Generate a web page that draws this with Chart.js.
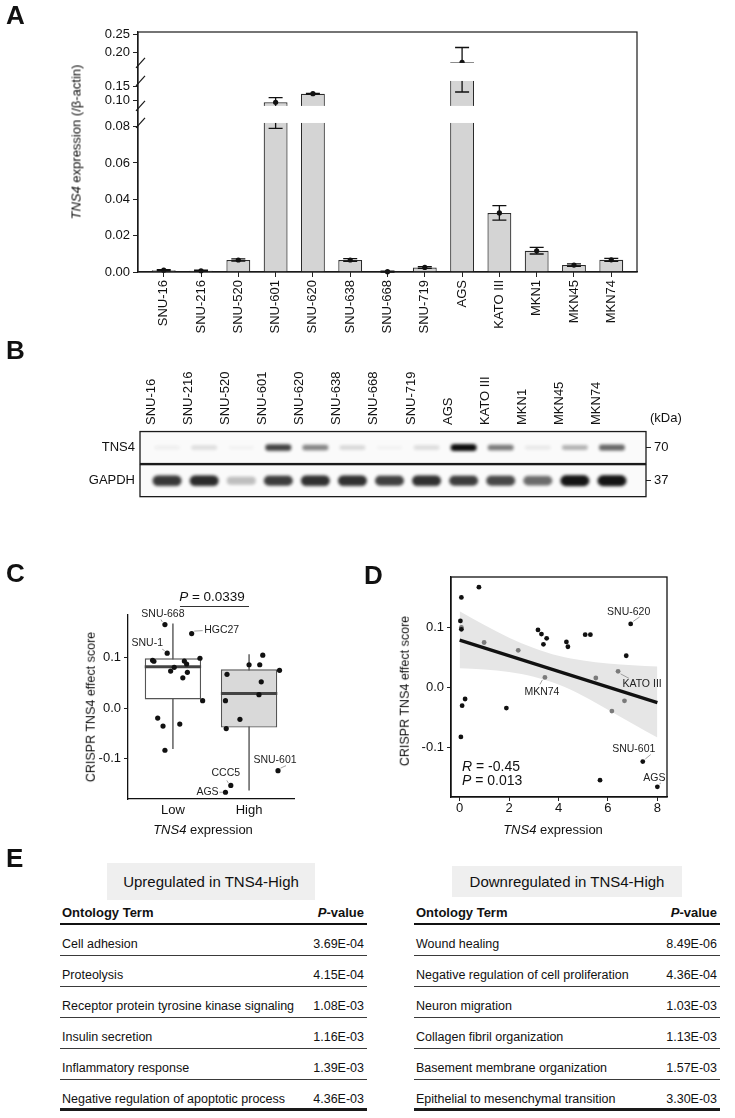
<!DOCTYPE html>
<html>
<head>
<meta charset="utf-8">
<script src="https://cdn.jsdelivr.net/npm/chart.js@4.4.1/dist/chart.umd.min.js"></script>
<style>
  body { margin: 0; background: #fff; font-family: "Liberation Sans", Arial, sans-serif; color: #111; }
  #page { position: relative; width: 735px; height: 1118px; overflow: hidden; }
  canvas { position: absolute; }
  .t { position: absolute; white-space: nowrap; line-height: 1; }
  .panel { font-weight: bold; font-size: 26px; }
  .rot { transform: translate(-50%, -50%) rotate(-90deg); }
  .ctr { transform: translate(-50%, -50%); }
  .tbox { position: absolute; background: #efefef; font-size: 15px; display: flex; align-items: center; justify-content: center; }
  .tbl { position: absolute; top: 900px; font-size: 12.5px; }
  .tbl .hd, .tbl .r { display: flex; justify-content: space-between; box-sizing: border-box; line-height: 14px; }
  .tbl .hd { height: 25px; padding: 6px 3px 0 2px; border-bottom: 2.5px solid #111; font-weight: bold; font-size: 13px; }
  .tbl .r { height: 31px; padding: 12px 3px 0 2px; border-bottom: 1.6px solid #3a3a3a; }
  .tbl .r:last-child { border-bottom: 3px solid #1a1a1a; }
</style>
</head>
<body>
<div id="page">
  <canvas id="chartA" width="735" height="345" style="left:0;top:0"></canvas>
  <canvas id="chartB" width="735" height="150" style="left:0;top:360px"></canvas>
  <canvas id="chartC" width="365" height="270" style="left:0;top:580px"></canvas>
  <canvas id="chartD" width="370" height="290" style="left:365px;top:560px"></canvas>

  <div class="t panel" style="left:6px;top:2px">A</div>
  <div class="t panel" style="left:6px;top:337px">B</div>
  <div class="t panel" style="left:6px;top:560px">C</div>
  <div class="t panel" style="left:364px;top:562px">D</div>
  <div class="t panel" style="left:6px;top:845px">E</div>

  <div class="t rot" style="left:76px;top:142px;font-size:13px"><i>TNS4</i> expression (/β-actin)</div>
  <div class="t" style="left:650px;top:411px;font-size:13px">(kDa)</div>

  <div class="t rot" style="left:91px;top:707px;font-size:12.5px">CRISPR TNS4 effect score</div>
  <div class="t ctr" style="left:203px;top:829px;font-size:13px"><i>TNS4</i> expression</div>
  <div class="t ctr" style="left:212px;top:597px;font-size:13.5px"><i>P</i> = 0.0339</div>
  <div style="position:absolute;left:180px;top:606px;width:69px;border-top:1px solid #333"></div>

  <div class="t rot" style="left:405px;top:691px;font-size:12.5px">CRISPR TNS4 effect score</div>
  <div class="t ctr" style="left:553px;top:829px;font-size:13px"><i>TNS4</i> expression</div>
  <div class="t" style="left:462px;top:759px;font-size:14px"><i>R</i> = -0.45</div>
  <div class="t" style="left:462px;top:773px;font-size:14px"><i>P</i> = 0.013</div>

  <div class="tbox" style="left:107px;top:863px;width:208px;height:37px">Upregulated in TNS4-High</div>
  <div class="tbox" style="left:452px;top:866px;width:230px;height:31px">Downregulated in TNS4-High</div>
  <div class="tbl" id="tblUp" style="left:60px;width:307px"></div>
  <div class="tbl" id="tblDown" style="left:414px;width:306px"></div>
</div>

<script>
const FONT = '"Liberation Sans", Arial, sans-serif';
Chart.defaults.font.family = FONT;
Chart.defaults.color = '#111';

// ---- panel A: qPCR ----
const cellLines = ['SNU-16', 'SNU-216', 'SNU-520', 'SNU-601', 'SNU-620', 'SNU-638', 'SNU-668',
  'SNU-719', 'AGS', 'KATO III', 'MKN1', 'MKN45', 'MKN74'];
const tns4Mean = [0.0010, 0.0007, 0.0066, 0.095, 0.125, 0.0066, 0.0002, 0.0025, 0.172, 0.0325, 0.0117, 0.0038, 0.0067];
const tns4Err = [0.0003, 0.0003, 0.0006, 0.016, 0.0012, 0.0008, 0.0002, 0.0005, 0.041, 0.004, 0.0018, 0.0007, 0.0008];
const yTicksA = [0, 0.02, 0.04, 0.06, 0.08, 0.10, 0.15, 0.20, 0.25];
// broken axis: value range of each segment and its share of the plot height
const segVals = [[0, 0.082], [0.082, 0.170], [0.170, 0.256]];
const segFrac = [[0, 0.621], [0.692, 0.796], [0.871, 1]];

// ---- panel B: western blot band strength (0-1) ----
const blotRows = ['TNS4', 'GAPDH'];
const kDa = ['70', '37'];
const tns4Band = [0.05, 0.12, 0.03, 0.78, 0.5, 0.15, 0.03, 0.13, 1.0, 0.55, 0.08, 0.3, 0.62];
const gapdhBand = [0.82, 0.88, 0.25, 0.8, 0.85, 0.85, 0.78, 0.85, 0.8, 0.75, 0.6, 0.97, 0.97];

// ---- panel C: boxplot ----
const groups = ['Low', 'High'];
const boxQ1 = [0.017, -0.039];
const boxMed = [0.082, 0.029];
const boxQ3 = [0.099, 0.077];
const whiskLo = [-0.0815, -0.164];
const whiskHi = [0.168, 0.107];
const cJitter = [0.895, 0.925, 1.246, 0.733, 0.75, 1.355, 1.017, 0.97, 1.15, 1.18, 1.19, 1.13, 1.39, 0.80, 0.87, 1.09, 0.895,
  1.71, 2.0, 2.14, 2.18, 2.40, 2.16, 2.13, 1.69, 1.88, 1.70, 2.38, 1.76, 1.69];
const cScore = [0.166, 0.109, 0.148, 0.095, 0.093, 0.099, 0.081, 0.0735, 0.0934, 0.0875, 0.071, 0.060, 0.0145, -0.020, -0.036, -0.032, -0.084,
  0.067, 0.086, 0.086, 0.105, 0.075, 0.052, 0.0265, 0.0145, -0.0225, -0.041, -0.1246, -0.154, -0.1676];
const cNotes = [
  { i: 0, text: 'SNU-668', dx: -2, dy: -10, lx: -4, ly: -5 },
  { i: 1, text: 'SNU-1', dx: -20, dy: -10, lx: -5, ly: -4 },
  { i: 2, text: 'HGC27', dx: 30, dy: -3, lx: 11, ly: -3 },
  { i: 27, text: 'SNU-601', dx: -3, dy: -11, lx: 8, ly: -5 },
  { i: 28, text: 'CCC5', dx: -5, dy: -12, lx: -4, ly: -5 },
  { i: 29, text: 'AGS', dx: -18, dy: 0, lx: -6, ly: 0 }
];

// ---- panel D: correlation ----
const dExpr = [0.07, 0.78, 0.03, 0.07, 0.07, 0.22, 0.10, 0.05, 1.89, 3.17, 3.31, 3.39, 3.52, 4.32, 4.38, 5.08, 5.29, 6.74, 6.92,
  5.68, 7.41, 8.00, 0.99, 2.37, 3.45, 5.51, 6.41, 6.67, 6.16];
const dScore = [0.150, 0.167, 0.111, 0.100, 0.097, -0.019, -0.030, -0.082, -0.034, 0.096, 0.089, 0.072, 0.082, 0.076, 0.068, 0.088, 0.088, 0.053, 0.106,
  -0.154, -0.123, -0.165, 0.075, 0.062, 0.017, 0.016, 0.027, -0.022, -0.039];
const dGray = [0, 0, 0, 1, 0, 0, 0, 0, 0, 0, 0, 0, 0, 0, 0, 0, 0, 0, 0, 0, 0, 0, 1, 1, 1, 1, 1, 1, 1];
const fitX = [0, 8];
const fitY = [0.079, -0.025];
const bandX = [0, 1, 2, 3, 4, 5, 6, 7, 8];
const bandUpper = [0.127, 0.104, 0.083, 0.066, 0.053, 0.045, 0.040, 0.037, 0.035];
const bandLower = [0.032, 0.030, 0.026, 0.018, 0.005, -0.014, -0.037, -0.060, -0.083];
const dNotes = [
  { i: 18, text: 'SNU-620', dx: -2, dy: -12, lx: 9, ly: -7 },
  { i: 26, text: 'KATO III', dx: 24, dy: 13, lx: 11, ly: 7 },
  { i: 24, text: 'MKN74', dx: -3, dy: 15, lx: -5, ly: 7 },
  { i: 20, text: 'SNU-601', dx: -9, dy: -12, lx: 8, ly: -7 },
  { i: 21, text: 'AGS', dx: -3, dy: -9, lx: 3, ly: -4 }
];

// ---- panel E: GO tables ----
const upTerms = ['Cell adhesion', 'Proteolysis', 'Receptor protein tyrosine kinase signaling', 'Insulin secretion',
  'Inflammatory response', 'Negative regulation of apoptotic process'];
const upP = ['3.69E-04', '4.15E-04', '1.08E-03', '1.16E-03', '1.39E-03', '4.36E-03'];
const downTerms = ['Wound healing', 'Negative regulation of cell proliferation', 'Neuron migration', 'Collagen fibril organization',
  'Basement membrane organization', 'Epithelial to mesenchymal transition'];
const downP = ['8.49E-06', '4.36E-04', '1.03E-03', '1.13E-03', '1.57E-03', '3.30E-03'];

// y scale with gaps
class BrokenLinear extends Chart.LinearScale {
  getPixelForValue(v) {
    const h = this.bottom - this.top;
    let k = segVals.findIndex(s => v <= s[1]);
    if (k < 0) k = segVals.length - 1;
    const [v0, v1] = segVals[k], [f0, f1] = segFrac[k];
    return this.bottom - (f0 + (v - v0) / (v1 - v0) * (f1 - f0)) * h;
  }
  getValueForPixel(p) {
    const f = (this.bottom - p) / (this.bottom - this.top);
    let k = segFrac.findIndex(s => f <= s[1]);
    if (k < 0) k = segFrac.length - 1;
    const [v0, v1] = segVals[k], [f0, f1] = segFrac[k];
    return v0 + (f - f0) / (f1 - f0) * (v1 - v0);
  }
}
BrokenLinear.id = 'brokenLinear';
Chart.register(BrokenLinear);

const base = {
  responsive: false,
  animation: false,
  devicePixelRatio: 1,
  plugins: { legend: { display: false }, tooltip: { enabled: false } }
};

const errorBarsA = {
  id: 'errorBarsA',
  afterDatasetsDraw(chart) {
    const { ctx, chartArea: a, scales: { x, y } } = chart;
    ctx.save();
    ctx.strokeStyle = '#111';
    ctx.fillStyle = '#111';
    ctx.lineWidth = 1.3;
    tns4Mean.forEach((m, i) => {
      const px = x.getPixelForValue(i);
      const hi = y.getPixelForValue(m + tns4Err[i]);
      const lo = y.getPixelForValue(Math.max(0, m - tns4Err[i]));
      ctx.beginPath();
      ctx.moveTo(px, hi); ctx.lineTo(px, lo);
      ctx.moveTo(px - 7, hi); ctx.lineTo(px + 7, hi);
      ctx.moveTo(px - 7, lo); ctx.lineTo(px + 7, lo);
      ctx.stroke();
      ctx.beginPath();
      ctx.arc(px, y.getPixelForValue(m), 2.6, 0, Math.PI * 2);
      ctx.fill();
    });
    // white gaps of the broken axis
    const h = a.bottom - a.top;
    ctx.fillStyle = '#fff';
    const edges = [];
    for (let k = 0; k < segFrac.length - 1; k++) {
      const yb = a.bottom - segFrac[k][1] * h;
      const yt = a.bottom - segFrac[k + 1][0] * h;
      ctx.fillRect(a.left + 1, yt, a.right - a.left - 2, yb - yt);
      edges.push(yb, yt);
    }
    ctx.strokeStyle = '#1a1a1a';
    ctx.lineWidth = 1.2;
    ctx.strokeRect(a.left, a.top, a.right - a.left, a.bottom - a.top);
    edges.forEach(e => {
      ctx.beginPath();
      ctx.moveTo(a.left - 2, e + 5);
      ctx.lineTo(a.left + 7, e - 5);
      ctx.stroke();
    });
    ctx.restore();
  }
};

new Chart(document.getElementById('chartA'), {
  type: 'bar',
  data: {
    datasets: [{
      data: cellLines.map((c, i) => ({ x: i, y: tns4Mean[i] })),
      backgroundColor: '#d4d4d4',
      borderColor: '#2b2b2b',
      borderWidth: 1.2,
      barPercentage: 0.64,
      categoryPercentage: 1
    }]
  },
  options: {
    ...base,
    layout: { padding: { top: 32, right: 98, left: 0, bottom: 0 } },
    scales: {
      x: {
        type: 'linear', min: -0.69, max: 12.69, offset: false,
        afterBuildTicks: s => { s.ticks = cellLines.map((c, i) => ({ value: i })); },
        afterFit: s => { s.height = 73; },
        grid: { offset: false, drawOnChartArea: false, tickLength: 5, color: '#222' },
        border: { color: '#1a1a1a', width: 1.2 },
        ticks: { autoSkip: false, minRotation: 90, maxRotation: 90, padding: 3, font: { size: 13 }, callback: v => cellLines[v] }
      },
      y: {
        type: 'brokenLinear', min: 0, max: 0.256,
        afterBuildTicks: s => { s.ticks = yTicksA.map(v => ({ value: v })); },
        afterFit: s => { s.width = 138; },
        grid: { drawOnChartArea: false, tickLength: 5, color: '#222' },
        border: { color: '#1a1a1a', width: 1.2 },
        ticks: { autoSkip: false, padding: 3, font: { size: 13 }, callback: v => v.toFixed(2) }
      }
    }
  },
  plugins: [errorBarsA]
});

// ---- B ----
const bandCache = {};
function bandImage(level, w, h) {
  level = level || 0;
  const key = level + '_' + w + '_' + h;
  if (bandCache[key]) return bandCache[key];
  const pad = 7;
  const c = document.createElement('canvas');
  c.width = w + pad * 2;
  c.height = Math.round(h + pad * 2);
  const g = c.getContext('2d');
  g.filter = 'blur(1.8px)';
  g.fillStyle = 'rgba(12,12,12,' + level + ')';
  const r = h / 2, x0 = pad, y0 = (c.height - h) / 2;
  g.beginPath();
  g.moveTo(x0 + r, y0);
  g.lineTo(x0 + w - r, y0);
  g.arc(x0 + w - r, y0 + r, r, -Math.PI / 2, Math.PI / 2);
  g.lineTo(x0 + r, y0 + h);
  g.arc(x0 + r, y0 + r, r, Math.PI / 2, Math.PI * 1.5);
  g.closePath();
  g.fill();
  bandCache[key] = c;
  return c;
}

const blotStrips = {
  id: 'blotStrips',
  beforeDatasetsDraw(chart) {
    const { ctx, chartArea: a, scales: { y } } = chart;
    ctx.save();
    ctx.fillStyle = '#fafafa';
    blotRows.forEach((r, i) => {
      const cy = y.getPixelForValue(i);
      ctx.fillRect(a.left, cy - 16, a.right - a.left, 32);
    });
    ctx.restore();
  },
  afterDatasetsDraw(chart) {
    const { ctx, chartArea: a, scales: { y } } = chart;
    ctx.save();
    ctx.strokeStyle = '#1a1a1a';
    ctx.lineWidth = 1.3;
    blotRows.forEach((r, i) => {
      const cy = y.getPixelForValue(i);
      ctx.strokeRect(a.left, cy - 16, a.right - a.left, 32);
    });
    ctx.restore();
  }
};

new Chart(document.getElementById('chartB'), {
  type: 'scatter',
  data: {
    datasets: [
      {
        data: cellLines.map((c, i) => ({ x: i, y: 'TNS4' })),
        pointRadius: 3,
        pointStyle: ctx => bandImage(tns4Band[ctx.dataIndex], 26, 4 + 3 * (tns4Band[ctx.dataIndex] || 0))
      },
      {
        data: cellLines.map((c, i) => ({ x: i, y: 'GAPDH' })),
        pointRadius: 3,
        pointStyle: ctx => bandImage(gapdhBand[ctx.dataIndex], 29, 7 + 4 * (gapdhBand[ctx.dataIndex] || 0))
      }
    ]
  },
  options: {
    ...base,
    layout: { padding: { top: 0, right: 0, left: 0, bottom: 11 } },
    scales: {
      x: {
        type: 'linear', position: 'top', min: -0.73, max: 12.92,
        afterBuildTicks: s => { s.ticks = cellLines.map((c, i) => ({ value: i })); },
        afterFit: s => { s.height = 71; },
        grid: { display: false, drawTicks: false },
        border: { display: false },
        ticks: { autoSkip: false, minRotation: 90, maxRotation: 90, padding: 6, font: { size: 13 }, callback: v => cellLines[v] }
      },
      y: {
        type: 'category', labels: blotRows, offset: true,
        afterFit: s => { s.width = 140; },
        grid: { display: false, drawTicks: false },
        border: { display: false },
        ticks: { padding: 5, font: { size: 13 } }
      },
      y2: {
        type: 'category', position: 'right', labels: kDa, offset: true,
        afterFit: s => { s.width = 89; },
        grid: { drawOnChartArea: false, tickLength: 5, color: '#222' },
        border: { display: false },
        ticks: { padding: 3, font: { size: 13 } }
      }
    }
  },
  plugins: [blotStrips]
});

// ---- callouts for C and D ----
function callouts(id, notes, xs, ys) {
  return {
    id,
    afterDatasetsDraw(chart) {
      const { ctx, scales: { x, y } } = chart;
      ctx.save();
      ctx.font = '10.5px ' + FONT;
      ctx.textAlign = 'center';
      ctx.textBaseline = 'middle';
      notes.forEach(n => {
        const px = x.getPixelForValue(xs[n.i]);
        const py = y.getPixelForValue(ys[n.i]);
        ctx.strokeStyle = '#8a8a8a';
        ctx.lineWidth = 0.8;
        ctx.beginPath();
        ctx.moveTo(px + Math.sign(n.lx) * 2.5, py + Math.sign(n.ly) * 2.5);
        ctx.lineTo(px + n.lx, py + n.ly);
        ctx.stroke();
        ctx.fillStyle = '#222';
        ctx.fillText(n.text, px + n.dx, py + n.dy);
      });
      ctx.restore();
    }
  };
}

// ---- C ----
const boxParts = {
  id: 'boxParts',
  beforeDatasetDraw(chart, args) {
    if (args.index !== 1) return;
    const { ctx, scales: { x, y } } = chart;
    ctx.save();
    ctx.strokeStyle = '#555';
    ctx.lineWidth = 1.4;
    groups.forEach((g, i) => {
      const px = x.getPixelForValue(i + 1);
      ctx.beginPath();
      ctx.moveTo(px, y.getPixelForValue(whiskHi[i]));
      ctx.lineTo(px, y.getPixelForValue(whiskLo[i]));
      ctx.stroke();
    });
    ctx.restore();
  },
  afterDatasetDraw(chart, args) {
    if (args.index !== 1) return;
    const { ctx, scales: { y } } = chart;
    const bars = chart.getDatasetMeta(1).data;
    ctx.save();
    ctx.strokeStyle = '#444';
    ctx.lineWidth = 3;
    groups.forEach((g, i) => {
      const b = bars[i];
      const py = y.getPixelForValue(boxMed[i]);
      ctx.beginPath();
      ctx.moveTo(b.x - b.width / 2, py);
      ctx.lineTo(b.x + b.width / 2, py);
      ctx.stroke();
    });
    ctx.restore();
  }
};

new Chart(document.getElementById('chartC'), {
  type: 'bar',
  data: {
    datasets: [
      {
        type: 'scatter',
        data: cScore.map((v, i) => ({ x: cJitter[i], y: v })),
        pointRadius: 2.6,
        backgroundColor: '#111',
        borderWidth: 0
      },
      {
        type: 'bar',
        data: groups.map((g, i) => ({ x: i + 1, y: [boxQ1[i], boxQ3[i]] })),
        backgroundColor: ['#ffffff', '#d9d9d9'],
        borderColor: '#555',
        borderWidth: 1.4,
        borderSkipped: false,
        barPercentage: 0.74,
        categoryPercentage: 1
      }
    ]
  },
  options: {
    ...base,
    layout: { padding: { top: 35, right: 71, left: 0, bottom: 0 } },
    scales: {
      x: {
        type: 'linear', min: 0.41, max: 2.59, offset: false,
        afterBuildTicks: s => { s.ticks = groups.map((g, i) => ({ value: i + 1 })); },
        afterFit: s => { s.height = 51; },
        grid: { display: false, drawTicks: false },
        border: { color: '#111', width: 1.3 },
        ticks: { padding: 4, font: { size: 13 }, callback: v => groups[v - 1] }
      },
      y: {
        min: -0.181, max: 0.185,
        afterBuildTicks: s => { s.ticks = [-0.1, 0, 0.1].map(v => ({ value: v })); },
        afterFit: s => { s.width = 128; },
        grid: { drawOnChartArea: false, tickLength: 4, color: '#222' },
        border: { color: '#111', width: 1.3 },
        ticks: { padding: 3, font: { size: 13 }, callback: v => v.toFixed(1) }
      }
    }
  },
  plugins: [boxParts, callouts('calloutsC', cNotes, cJitter, cScore)]
});

// ---- D ----
const frameD = {
  id: 'frameD',
  afterDatasetsDraw(chart) {
    const { ctx, chartArea: a } = chart;
    ctx.save();
    ctx.strokeStyle = '#111';
    ctx.lineWidth = 1.3;
    ctx.strokeRect(a.left, a.top, a.right - a.left, a.bottom - a.top);
    ctx.restore();
  }
};

new Chart(document.getElementById('chartD'), {
  type: 'scatter',
  data: {
    datasets: [
      {
        type: 'scatter',
        data: dScore.map((v, i) => ({ x: dExpr[i], y: v })),
        pointRadius: 2.4,
        backgroundColor: dGray.map(g => g ? '#7a7a7a' : '#111'),
        borderWidth: 0
      },
      {
        type: 'line',
        data: fitX.map((x, i) => ({ x, y: fitY[i] })),
        borderColor: '#111',
        borderWidth: 3.2,
        pointRadius: 0
      },
      {
        type: 'line',
        data: bandX.map((x, i) => ({ x, y: bandUpper[i] })),
        borderWidth: 0,
        pointRadius: 0,
        cubicInterpolationMode: 'monotone',
        fill: '+1',
        backgroundColor: '#e6e6e6'
      },
      {
        type: 'line',
        data: bandX.map((x, i) => ({ x, y: bandLower[i] })),
        borderWidth: 0,
        pointRadius: 0,
        cubicInterpolationMode: 'monotone',
        fill: false
      }
    ]
  },
  options: {
    ...base,
    layout: { padding: { top: 17, right: 68, left: 0, bottom: 0 } },
    scales: {
      x: {
        type: 'linear', min: -0.35, max: 8.39,
        afterBuildTicks: s => { s.ticks = [0, 2, 4, 6, 8].map(v => ({ value: v })); },
        afterFit: s => { s.height = 53; },
        grid: { drawOnChartArea: false, tickLength: 4, color: '#222' },
        border: { color: '#111', width: 1.3 },
        ticks: { padding: 0, font: { size: 13 } }
      },
      y: {
        type: 'linear', min: -0.182, max: 0.184,
        afterBuildTicks: s => { s.ticks = [-0.1, 0, 0.1].map(v => ({ value: v })); },
        afterFit: s => { s.width = 86; },
        grid: { drawOnChartArea: false, tickLength: 4, color: '#222' },
        border: { color: '#111', width: 1.3 },
        ticks: { padding: 3, font: { size: 13 }, callback: v => v.toFixed(1) }
      }
    }
  },
  plugins: [frameD, callouts('calloutsD', dNotes, dExpr, dScore)]
});

// ---- E ----
function fillTable(id, terms, pvals) {
  const el = document.getElementById(id);
  let html = '<div class="hd"><span>Ontology Term</span><span><i>P</i>-value</span></div>';
  terms.forEach((t, i) => {
    html += '<div class="r"><span>' + t + '</span><span>' + pvals[i] + '</span></div>';
  });
  el.innerHTML = html;
}
fillTable('tblUp', upTerms, upP);
fillTable('tblDown', downTerms, downP);
</script>
</body>
</html>
